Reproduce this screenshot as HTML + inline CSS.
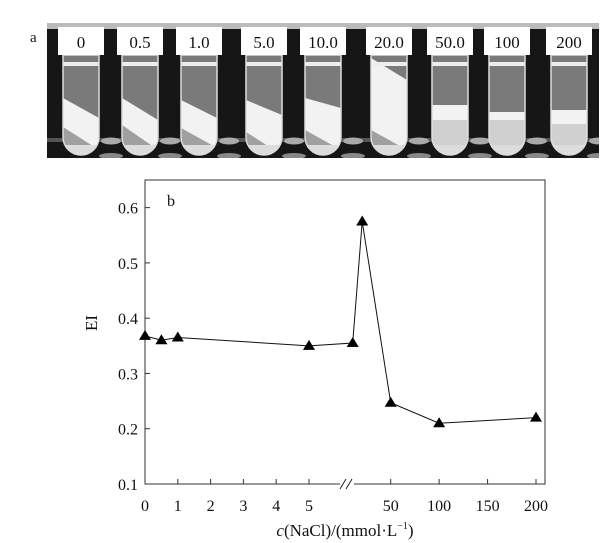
<!DOCTYPE html>
<html><head><meta charset="utf-8">
<style>
html,body{margin:0;padding:0;background:#fff;}
svg{display:block;font-family:"Liberation Serif",serif;}
</style></head>
<body>
<svg id="fig" width="609" height="543" viewBox="0 0 609 543" xmlns="http://www.w3.org/2000/svg">
  <defs><clipPath id="photoclip"><rect x="47" y="23" width="552" height="135"/></clipPath></defs>
  <text x="30" y="42" font-size="15" fill="#111">a</text>
  <g id="photo">
    <rect x="47" y="23" width="552" height="135" fill="#161616"/>
    <rect x="47" y="23" width="552" height="6" fill="#bbb"/>
    <rect x="47" y="138" width="552" height="4" fill="#555"/>
  </g>
  <g id="tubes" clip-path="url(#photoclip)"></g>
  <text x="167" y="206" font-size="16" fill="#111">b</text>
  <g id="chart"></g>
  <text transform="translate(97,323) rotate(-90)" text-anchor="middle" font-size="17" fill="#111">EI</text>
  <text x="345" y="536" text-anchor="middle" font-size="17" fill="#111"><tspan font-style="italic">c</tspan>(NaCl)/(mmol·L<tspan font-size="10" dy="-7">−1</tspan><tspan dy="7">)</tspan></text>
</svg>
<script>
const tubeLabels = ["0","0.5","1.0","5.0","10.0","20.0","50.0","100","200"];
const xCats = [0,0.5,1,5,10,20,50,100,200];
const eiValues = [0.368,0.36,0.365,0.35,0.355,0.575,0.247,0.21,0.22];
const yTicks = [0.1,0.2,0.3,0.4,0.5,0.6];
const xTicks1 = [0,1,2,3,4,5];
const xTicks2 = [50,100,150,200];

const NS="http://www.w3.org/2000/svg";
function mk(tag,attrs,parent){const e=document.createElementNS(NS,tag);for(const k in attrs)e.setAttribute(k,attrs[k]);parent.appendChild(e);return e;}

const tubeCenters=[81,140,199,264,323,389,450,507,569];
const bands=[[98,118,127,150],[98,120,125,150],[100,118,128,148],[100,115,132,155],[98,108,130,150],[58,80,130,150],[105,105,120,120],[112,112,120,120],[110,110,124,124]];
const tg=document.getElementById('tubes');
tubeLabels.forEach((lab,i)=>{
  const cx=tubeCenters[i], l=cx-18, r=cx+18;
  const g=mk('g',{},tg);
  
  
  mk('ellipse',{cx:cx+30,cy:141,rx:10,ry:3.5,fill:'#aaa'},g);
  mk('ellipse',{cx:cx+30,cy:156,rx:12,ry:3,fill:'#888'},g);
  const id='clip'+i;
  const cp=mk('clipPath',{id:id},g);
  const d=`M${l},55 L${r},55 L${r},137 A18,18 0 0 1 ${l},137 Z`;
  mk('path',{d:d},cp);
  const cg=mk('g',{'clip-path':`url(#${id})`},g);
  mk('rect',{x:l,y:55,width:36,height:102,fill:'#7a7a7a'},cg);
  const b=bands[i];
  mk('polygon',{points:`${l},${b[2]} ${r},${b[3]} ${r},160 ${l},160`,fill:i>=6?'#d0d0d0':'#a0a0a0'},cg);
  mk('polygon',{points:`${l},${b[0]} ${r},${b[1]} ${r},${b[3]} ${l},${b[2]}`,fill:'#f2f2f2'},cg);
  mk('rect',{x:l,y:145,width:36,height:15,fill:'#dcdcdc'},cg);
  mk('rect',{x:l,y:62,width:36,height:4,fill:'#eee'},cg);
  mk('path',{d:d,fill:'none',stroke:'#ddd','stroke-width':1.5},g);
  mk('rect',{x:cx-23,y:27,width:46,height:28,fill:'#fff'},g);
  const t=mk('text',{x:cx,y:48,'text-anchor':'middle','font-size':17,fill:'#111'},g);
  t.textContent=lab;
});

const L=145,R=545,T=180,B=484;
function yS(v){return B-(v-0.1)/0.55*(B-T);}
function xS(v){
  if(v<=5) return 145+v*32.8;
  if(v<=10) return 309+(v-5)/5*43.7;
  if(v<=50) return 352.7+(v-10)/40*38;
  return 390.7+(v-50)/150*145.3;
}
const ch=document.getElementById('chart');
const frame=mk('rect',{x:L,y:T,width:R-L,height:B-T,fill:'none',stroke:'#333','stroke-width':1},ch);


mk('rect',{x:340,y:481,width:14,height:6,fill:'#fff'},ch);
mk('line',{x1:340,y1:489,x2:346,y2:479,stroke:'#222','stroke-width':1},ch);
mk('line',{x1:346,y1:489,x2:352,y2:479,stroke:'#222','stroke-width':1},ch);
yTicks.forEach(v=>{
  const y=yS(v);
  mk('line',{x1:L,y1:y,x2:L+5,y2:y,stroke:'#333'},ch);
  const t=mk('text',{x:L-7,y:y+6,'text-anchor':'end','font-size':16,fill:'#111'},ch);
  
  
  t.textContent=v.toFixed(1);
});
xTicks1.concat(xTicks2).forEach(v=>{
  const x=xS(v);
  mk('line',{x1:x,y1:B,x2:x,y2:B-5,stroke:'#333'},ch);
  const t=mk('text',{x:x,y:511,'text-anchor':'middle','font-size':16,fill:'#111'},ch);
  
  
  t.textContent=String(v);
});
const pts=xCats.map((c,i)=>[xS(c),yS(eiValues[i])]);
const line=mk('polyline',{points:pts.map(p=>p.join(',')).join(' '),fill:'none',stroke:'#111','stroke-width':1},ch);


pts.forEach(p=>{
  const m=mk('polygon',{points:`${p[0]},${p[1]-6} ${p[0]-6},${p[1]+4} ${p[0]+6},${p[1]+4}`,fill:'#000'},ch);
  
  
});
</script>
</body></html>
